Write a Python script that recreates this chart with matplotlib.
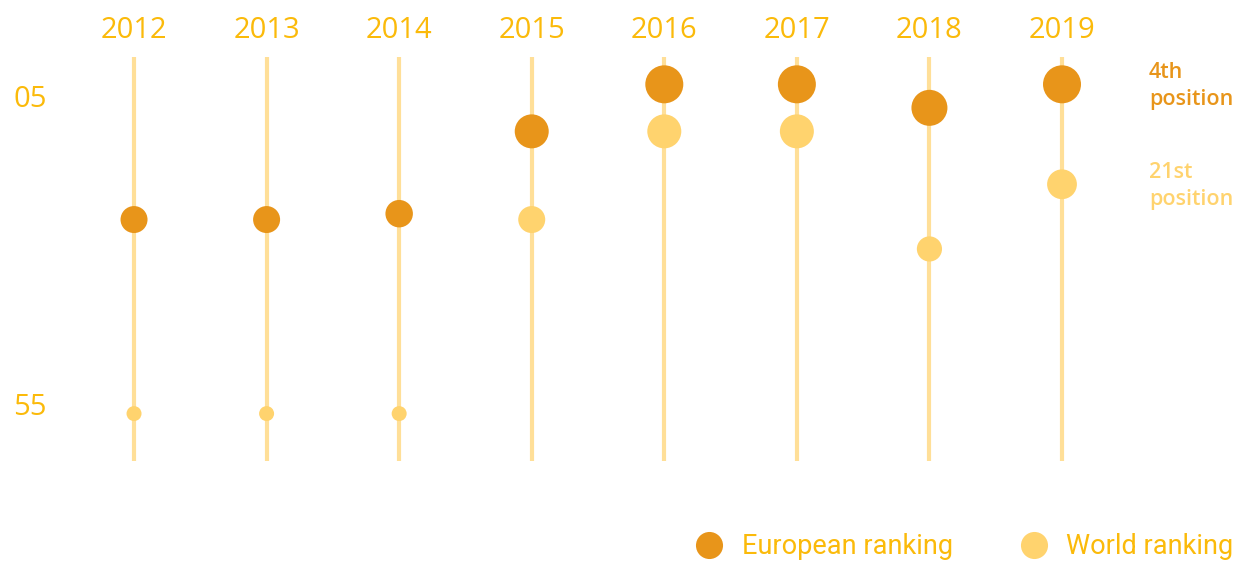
import numpy as np
import matplotlib.pyplot as plt
from matplotlib.lines import Line2D
from matplotlib.transforms import blended_transform_factory

years = ['2012', '2013', '2014', '2015', '2016', '2017', '2018', '2019']
europe_rank = [27, 27, 26, 12, 4, 4, 8, 4]
world_rank = [60, 60, 60, 27, 12, 12, 32, 21]
ytick_vals = [6.5, 59]
ytick_labels = ['05', '55']
last_labels = ['4th\nposition', '21st\nposition']

dark = '#E8951A'
light = '#FFD36E'
stem = '#FFDF98'
gold = '#FBBA0A'

plt.rcParams['font.family'] = ['Open Sans', 'DejaVu Sans']

fig = plt.figure(figsize=(12.36, 5.61), dpi=100)
ax = fig.add_axes([0, 0, 1, 1])
ax.set_xlim(-1.011, 8.3125)
ax.set_ylim(85.07, -10.34)
ax.axis('off')

x = np.arange(len(years))


def size_of(rank):
    # bigger dot for better rank (diameter in px -> points^2)
    d = np.interp(rank, [4, 12, 27, 60], [38, 34, 27, 15])
    return (d * 0.72) ** 2


ax.vlines(x, -0.6, 68, color=stem, lw=3, zorder=1)
ax.scatter(x, world_rank, s=size_of(np.array(world_rank)), color=light, zorder=3, lw=0)
ax.scatter(x, europe_rank, s=size_of(np.array(europe_rank)), color=dark, zorder=4, lw=0)

top = blended_transform_factory(ax.transData, ax.transAxes)
for i, y in enumerate(years):
    ax.text(i, 1 - 31 / 561, y, transform=top, ha='center', va='center',
            fontsize=21, color=gold)

left = blended_transform_factory(ax.transAxes, ax.transData)
for v, lab in zip(ytick_vals, ytick_labels):
    ax.text(30 / 1236, v, lab, transform=left, ha='center', va='center',
            fontsize=21, color=gold)

ax.text(x[-1] + 0.656, europe_rank[-1] + 0.3, last_labels[0], ha='left', va='center',
        fontsize=15.5, color=dark, fontweight='semibold', linespacing=1.35)
ax.text(x[-1] + 0.656, world_rank[-1] + 0.3, last_labels[1], ha='left', va='center',
        fontsize=15.5, color=light, fontweight='semibold', linespacing=1.35)

handles = [Line2D([], [], ls='', marker='o', ms=19.5, color=dark, mew=0),
           Line2D([], [], ls='', marker='o', ms=19.5, color=light, mew=0)]
ax.legend(handles, ['European ranking', 'World ranking'], loc='lower right',
          bbox_to_anchor=(1.009, -0.023), ncol=2, frameon=False,
          prop={'family': 'Roboto', 'size': 19.5},
          labelcolor=gold, handletextpad=0.6, columnspacing=2.4,
          borderaxespad=0.1, handlelength=1.2)

fig.savefig('out.png', dpi=100)
